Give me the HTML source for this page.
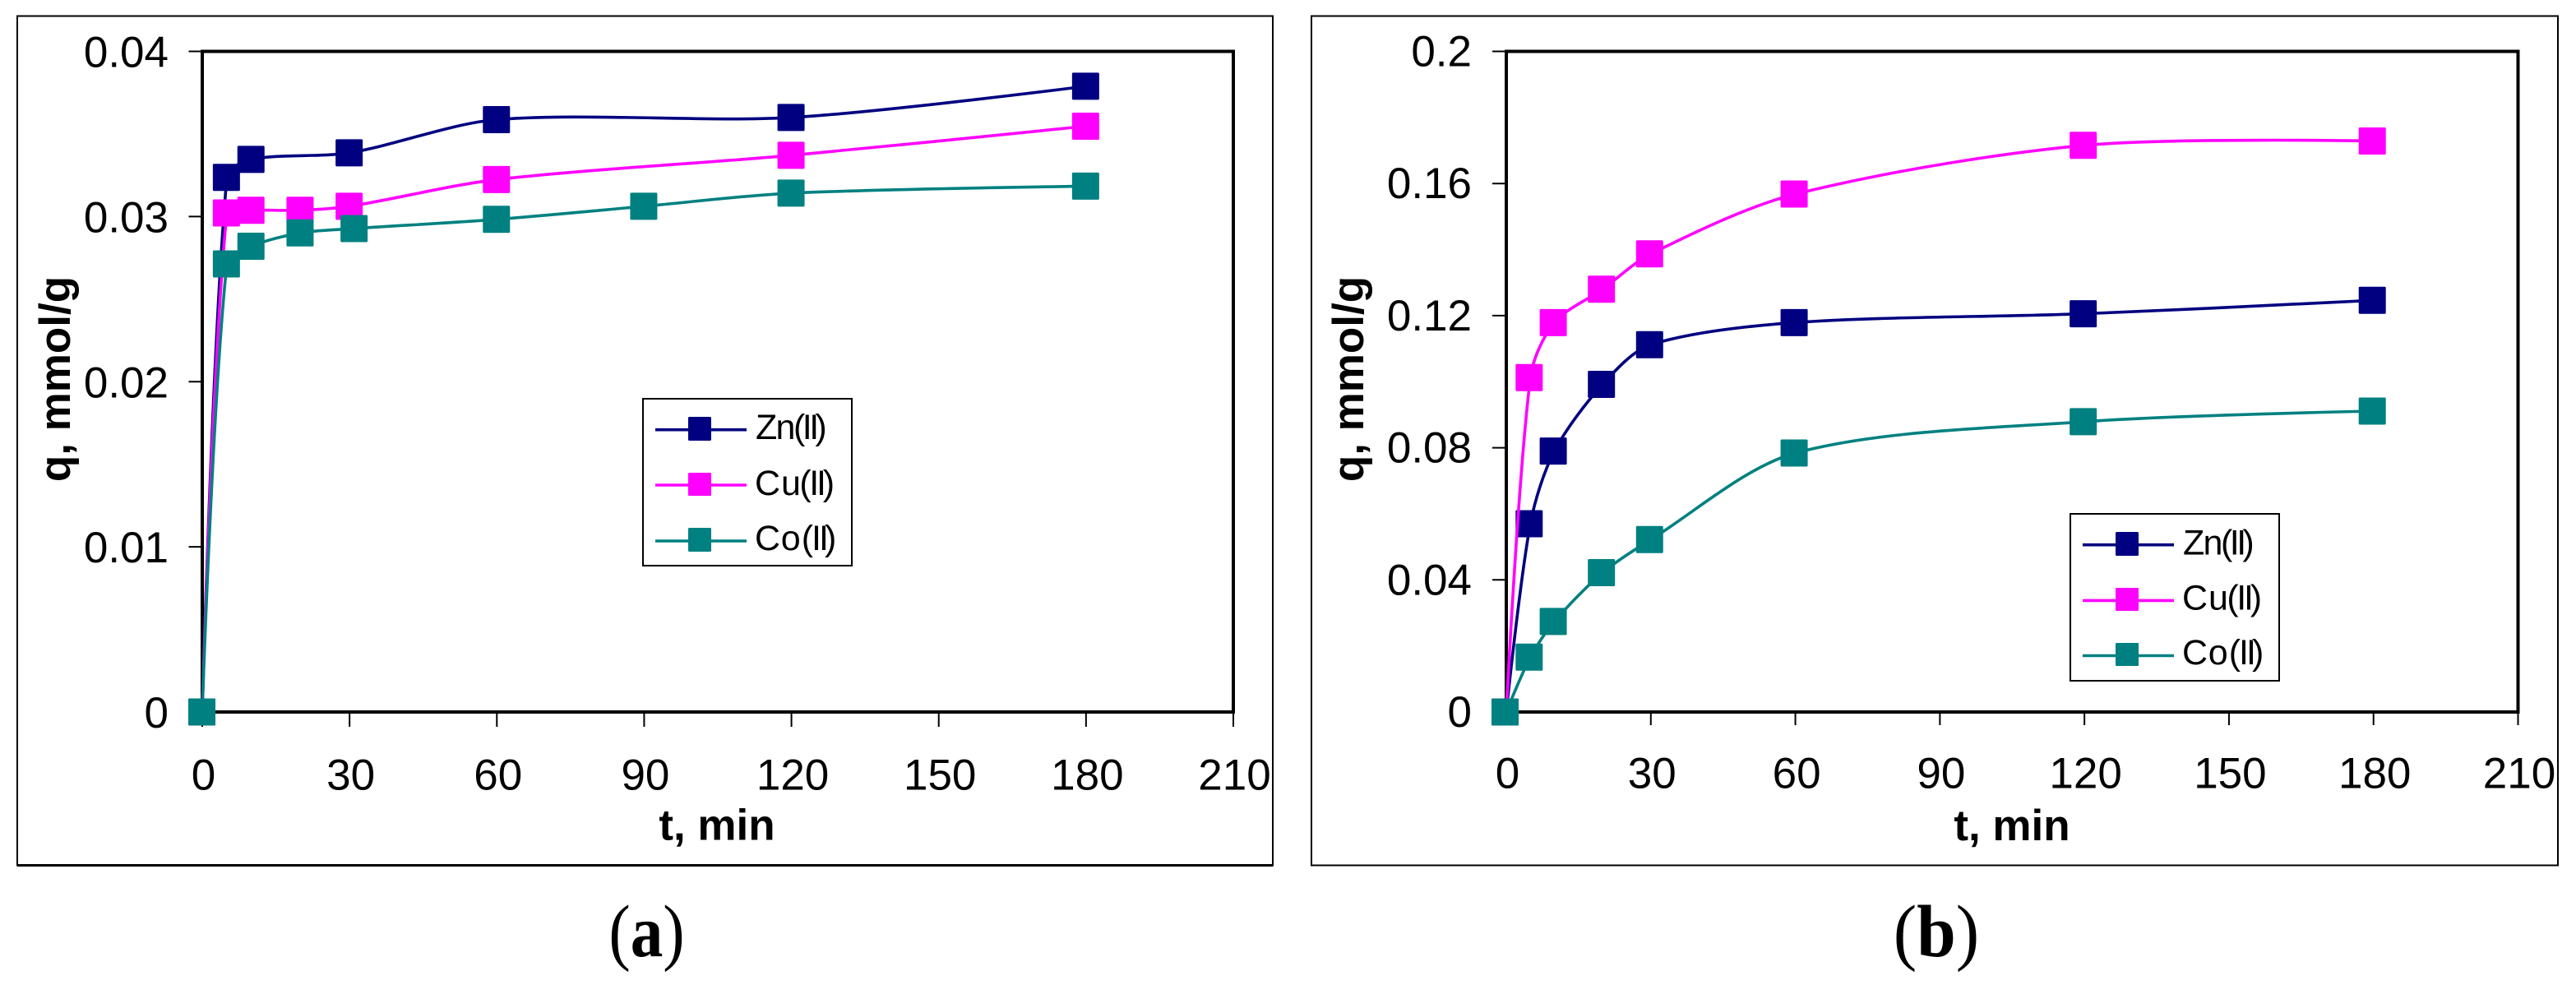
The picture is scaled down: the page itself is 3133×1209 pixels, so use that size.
<!DOCTYPE html>
<html lang="en">
<head>
<meta charset="utf-8">
<title>Adsorption kinetics of Zn(II), Cu(II) and Co(II)</title>
<style>
html,body{margin:0;padding:0;background:#fff;width:3133px;height:1209px;overflow:hidden}
svg{display:block}
text{font-family:"Liberation Sans",Arial,sans-serif;fill:#000}
.tick-label{font-size:53px}
.axis-title{font-size:53px;font-weight:700}
.legend-label{font-size:43px}
.caption{font-family:"Liberation Serif","Times New Roman",serif;font-size:90px}
.caption tspan.b{font-weight:700}
</style>
</head>
<body>
<svg id="figure" xmlns="http://www.w3.org/2000/svg" width="3133" height="1209" viewBox="0 0 3133 1209">
  <rect width="3133" height="1209" fill="#fff"/>

  <g id="panel-a">
    <rect x="21" y="19.5" width="1527" height="1033" fill="none" stroke="#000" stroke-width="2"/>
    <line x1="21" x2="1548" y1="1052.5" y2="1052.5" stroke="#000" stroke-width="3"/>
    <rect x="246" y="62.5" width="1254" height="803.5" fill="#fff" stroke="#000" stroke-width="4"/>
    <g id="a-ticks"></g>
    <text class="axis-title" transform="translate(85,461) rotate(-90)" text-anchor="middle">q, mmol/g</text>
    <text class="axis-title" x="872" y="1021.5" text-anchor="middle">t, min</text>
    <g id="a-series"></g>
    <g>
      <rect x="782" y="485" width="254" height="203" fill="#fff" stroke="#000" stroke-width="2"/>
      <line x1="797" x2="908" y1="522.7" y2="522.7" stroke="#000080" stroke-width="3.6"/>
      <rect x="837" y="507" width="28" height="29" rx="1.5" fill="#000080"/>
      <text class="legend-label" x="919 943.5 965 975.7 984.3 991.4" y="534">Zn(II)</text>
      <line x1="797" x2="908" y1="590" y2="590" stroke="#ff00ff" stroke-width="3.6"/>
      <rect x="837" y="575" width="28" height="28" rx="1" fill="#ff00ff"/>
      <text class="legend-label" x="918 950 972.4 984.3 993 1000.7" y="602">Cu(II)</text>
      <line x1="797" x2="908" y1="658" y2="658" stroke="#008080" stroke-width="3.6"/>
      <rect x="837" y="642" width="28" height="29" rx="1.5" fill="#008080"/>
      <text class="legend-label" x="918 949.7 974.7 987 996 1003" y="669">Co(II)</text>
    </g>
    <text class="caption" transform="translate(786.5,1163) scale(.88,1)" text-anchor="middle">(<tspan class="b">a</tspan>)</text>
  </g>

  <g id="panel-b">
    <rect x="1595" y="19.5" width="1516" height="1033" fill="none" stroke="#000" stroke-width="2"/>
    <rect x="1832" y="62.5" width="1230.5" height="803.5" fill="#fff" stroke="#000" stroke-width="4"/>
    <g id="b-ticks"></g>
    <text class="axis-title" transform="translate(1658,461) rotate(-90)" text-anchor="middle">q, mmol/g</text>
    <text class="axis-title" x="2447" y="1022" text-anchor="middle">t, min</text>
    <g id="b-series"></g>
    <g>
      <rect x="2518" y="625" width="254" height="203" fill="#fff" stroke="#000" stroke-width="2"/>
      <line x1="2533" x2="2644" y1="662.7" y2="662.7" stroke="#000080" stroke-width="3.6"/>
      <rect x="2573" y="647" width="28" height="29" rx="1.5" fill="#000080"/>
      <text class="legend-label" x="2655 2679.5 2701 2711.7 2720.3 2727.4" y="674.5">Zn(II)</text>
      <line x1="2533" x2="2644" y1="730.4" y2="730.4" stroke="#ff00ff" stroke-width="3.6"/>
      <rect x="2573" y="715" width="28" height="28" rx="1" fill="#ff00ff"/>
      <text class="legend-label" x="2654 2686 2708.4 2720.3 2729 2736.7" y="741.5">Cu(II)</text>
      <line x1="2533" x2="2644" y1="797.5" y2="797.5" stroke="#008080" stroke-width="3.6"/>
      <rect x="2573" y="782" width="28" height="28" rx="1" fill="#008080"/>
      <text class="legend-label" x="2654 2685.7 2710.7 2723 2732 2739" y="808">Co(II)</text>
    </g>
    <text class="caption" transform="translate(2355,1163) scale(.95,1)" text-anchor="middle">(<tspan class="b">b</tspan>)</text>
  </g>
</svg>

<script>
// ---- shared axis data ----
const xTickValues = [0, 30, 60, 90, 120, 150, 180, 210];
const xTickLabels = ['0', '30', '60', '90', '120', '150', '180', '210'];

// ---- panel (a) data ----
const aYTickValues = [0, 0.01, 0.02, 0.03, 0.04];
const aYTickLabels = ['0', '0.01', '0.02', '0.03', '0.04'];
const aZnTimes = [0, 5, 10, 30, 60, 120, 180];
const aZnValues = [0, 0.03237, 0.03346, 0.03386, 0.03587, 0.036, 0.03789];
const aCuTimes = [0, 5, 10, 20, 30, 60, 120, 180];
const aCuValues = [0, 0.03022, 0.03038, 0.03038, 0.03062, 0.03224, 0.03371, 0.03547];
const aCoTimes = [0, 5, 10, 20, 31, 60, 90, 120, 180];
const aCoValues = [0, 0.02713, 0.0282, 0.02901, 0.02927, 0.02983, 0.03062, 0.03142, 0.03184];

// ---- panel (b) data ----
const bYTickValues = [0, 0.04, 0.08, 0.12, 0.16, 0.2];
const bYTickLabels = ['0', '0.04', '0.08', '0.12', '0.16', '0.2'];
const bTimes = [0, 5, 10, 20, 30, 60, 120, 180];
const bZnValues = [0, 0.057, 0.079, 0.0992, 0.1112, 0.1179, 0.12057, 0.12463];
const bCuValues = [0, 0.10123, 0.1179, 0.128, 0.1387, 0.1568, 0.17155, 0.17288];
const bCoValues = [0, 0.0166, 0.0274, 0.0422, 0.0522, 0.0784, 0.0879, 0.0911];

const SVGNS = 'http://www.w3.org/2000/svg';
const NAVY = '#000080', MAGENTA = '#ff00ff', TEAL = '#008080';

function mk(tag, attrs, parent) {
  const el = document.createElementNS(SVGNS, tag);
  for (const k in attrs) el.setAttribute(k, attrs[k]);
  parent.appendChild(el);
  return el;
}

function smoothPath(pts) {
  const k = 0.3;
  const dist = (a, b) => Math.hypot(b[0] - a[0], b[1] - a[1]);
  function tangent(i) {
    const a = pts[Math.max(0, i - 1)], b = pts[Math.min(pts.length - 1, i + 1)];
    const l = dist(a, b) || 1;
    return [(b[0] - a[0]) / l, (b[1] - a[1]) / l];
  }
  let d = 'M' + pts[0][0].toFixed(1) + ' ' + pts[0][1].toFixed(1);
  for (let i = 0; i < pts.length - 1; i++) {
    const p = pts[i], q = pts[i + 1], len = dist(p, q);
    const tp = tangent(i), tq = tangent(i + 1);
    const c1 = i === 0 ? p : [p[0] + tp[0] * k * len, p[1] + tp[1] * k * len];
    const c2 = i === pts.length - 2 ? q : [q[0] - tq[0] * k * len, q[1] - tq[1] * k * len];
    d += 'C' + c1[0].toFixed(1) + ' ' + c1[1].toFixed(1) + ' ' + c2[0].toFixed(1) + ' ' + c2[1].toFixed(1) + ' ' + q[0].toFixed(1) + ' ' + q[1].toFixed(1);
  }
  return d;
}

function drawTicks(groupId, xScale, yScale, yVals, yLabels, cfg) {
  const g = document.getElementById(groupId);
  yVals.forEach(function (v, i) {
    const y = yScale(v);
    const t = mk('line', { x1: cfg.left - cfg.yTickLen, x2: cfg.left, y1: y, y2: y, stroke: '#000', 'stroke-width': 2 }, g);
    
    
    const l = mk('text', { class: 'tick-label', x: cfg.yLabelRight, y: y + cfg.yLabelDy, 'text-anchor': 'end' }, g);
    l.textContent = yLabels[i];
    
    
  });
  xTickValues.forEach(function (v, i) {
    const x = xScale(v);
    const t = mk('line', { x1: x, x2: x, y1: 866, y2: cfg.xTickEnd, stroke: '#000', 'stroke-width': 2 }, g);
    
    
    const l = mk('text', { class: 'tick-label', x: x + cfg.xLabelDx, y: cfg.xLabelBase, 'text-anchor': 'middle' }, g);
    l.textContent = xTickLabels[i];
    
    
  });
}

function drawSeries(groupId, key, color, times, values, xScale, yScale, markerDx) {
  const host = document.getElementById(groupId);
  const g = mk('g', {}, host);
  
  
  const pts = times.map(function (t, i) { return [xScale(t), yScale(values[i])]; });
  const path = mk('path', { d: smoothPath(pts), fill: 'none', stroke: color, 'stroke-width': 3.6, 'stroke-linejoin': 'round' }, g);
  
  
  const size = 33;
  pts.forEach(function (p) {
    const r = mk('rect', { x: p[0] + markerDx - size / 2, y: p[1] - size / 2, width: size, height: size, rx: 1.5, fill: color }, g);
    
    
  });
}

// panel (a) axes
const axA = t => 246 + t / 210 * 1254;
const ayA = v => 866 - v / 0.04 * 803.5;
drawTicks('a-ticks', axA, ayA, aYTickValues, aYTickLabels, { left: 246, yTickLen: 16.5, yLabelRight: 205, yLabelDy: 19, xTickEnd: 884, xLabelDx: 1.5, xLabelBase: 960.7 });
drawSeries('a-series', 'zn', NAVY, aZnTimes, aZnValues, axA, ayA, -0.5);
drawSeries('a-series', 'cu', MAGENTA, aCuTimes, aCuValues, axA, ayA, -0.5);
drawSeries('a-series', 'co', TEAL, aCoTimes, aCoValues, axA, ayA, -0.5);

// panel (b) axes
const axB = t => 1832 + t / 210 * 1230.5;
const ayB = v => 866 - v / 0.2 * 803.5;
drawTicks('b-ticks', axB, ayB, bYTickValues, bYTickLabels, { left: 1832, yTickLen: 17, yLabelRight: 1790, yLabelDy: 18, xTickEnd: 882, xLabelDx: 1.5, xLabelBase: 958.5 });
drawSeries('b-series', 'zn', NAVY, bTimes, bZnValues, axB, ayB, -1.5);
drawSeries('b-series', 'cu', MAGENTA, bTimes, bCuValues, axB, ayB, -1.5);
drawSeries('b-series', 'co', TEAL, bTimes, bCoValues, axB, ayB, -1.5);
</script>
</body>
</html>
